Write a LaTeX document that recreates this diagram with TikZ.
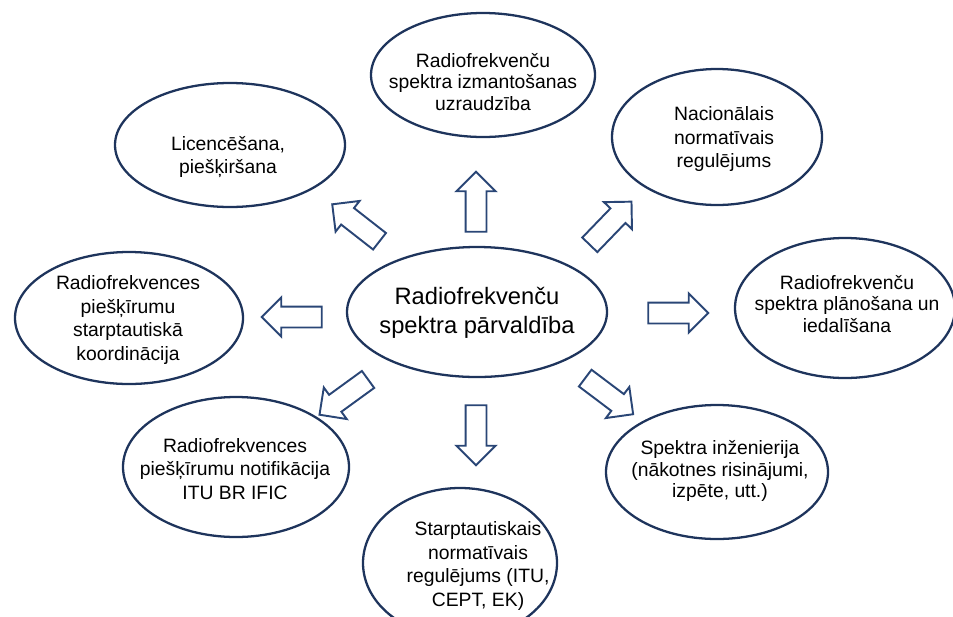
\documentclass[tikz,border=0pt]{standalone}
\usepackage{fontspec}
\setmainfont{Liberation Sans}
\usetikzlibrary{shapes.arrows}
\definecolor{ringblue}{RGB}{30,52,92}
\definecolor{arrowblue}{RGB}{42,70,118}
\begin{document}
\begin{tikzpicture} [inner sep=0pt,
        ring/.style={draw=ringblue, line width=1.3pt},
        topic/.style={align=center, font=\fontsize{11}{13.6}\selectfont},
        tighttopic/.style={align=center, font=\fontsize{11}{12}\selectfont},
        hub/.style={align=center, font=\fontsize{13.5}{16.5}\selectfont},
        blockarrow/.style={draw=arrowblue, single arrow, line width=1.1pt, minimum height=1.2cm,
            inner xsep=0pt, inner ysep=0.19cm, single arrow head extend=0.18cm}]
                \clip (0,0) rectangle (19.06,-12.32);
                \useasboundingbox (0,0) rectangle (19.06,-12.32);

                % rings
                \draw[ring] (9.54,-6.24) ellipse [x radius=2.6cm, y radius=1.3cm];
                \draw[ring] (9.66,-1.5) ellipse [x radius=2.24cm, y radius=1.24cm];
                \draw[ring] (14.34,-2.74) ellipse [x radius=2.1cm, y radius=1.36cm];
                \draw[ring] (16.9,-6.16) ellipse [x radius=2.2cm, y radius=1.4cm];
                \draw[ring] (14.34,-9.44) ellipse [x radius=2.22cm, y radius=1.34cm];
                \draw[ring] (9.2,-11.26) ellipse [x radius=1.94cm, y radius=1.5cm];
                \draw[ring] (4.72,-9.34) ellipse [x radius=2.26cm, y radius=1.4cm];
                \draw[ring] (2.58,-6.36) ellipse [x radius=2.28cm, y radius=1.32cm];
                \draw[ring] (4.6,-2.9) ellipse [x radius=2.3cm, y radius=1.24cm];

                \node (Hub) [hub] at(9.54,-6.26) {Radiofrekvenču\\spektra pārvaldība};
                \node (Monitor) [tighttopic] at(9.66,-1.64) {Radiofrekvenču\\spektra izmantošanas\\uzraudzība};
                \node (National) [topic] at(14.48,-2.78) {Nacionālais\\normatīvais\\regulējums};
                \node (Planning) [tighttopic] at(16.94,-6.08) {Radiofrekvenču\\spektra plānošana un\\iedalīšana};
                \node (Engineering) [tighttopic] at(14.4,-9.42) {Spektra inženierija\\(nākotnes risinājumi,\\izpēte, utt.)};
                \node (International) [topic] at(9.56,-11.32) {Starptautiskais\\normatīvais\\regulējums (ITU,\\CEPT, EK)};
                \node (Notification) [topic] at(4.7,-9.38) {Radiofrekvences\\piešķīrumu notifikācija\\ITU BR IFIC};
                \node (Coordination) [topic] at(2.56,-6.4) {Radiofrekvences\\piešķīrumu\\starptautiskā\\koordinācija};
                \node (Licensing) [topic] at(4.56,-3.14) {Licencēšana,\\piešķiršana};

                % block arrows from the hub
                \node (ArrMonitor) [blockarrow, rotate=90] at(9.52,-4.14) {};
                \node (ArrNational) [blockarrow, rotate=46] at(12.14,-4.54) {};
                \node (ArrPlanning) [blockarrow, rotate=0] at(13.46,-6.26) {};
                \node (ArrEngineering) [blockarrow, rotate=-37] at(12.1,-7.86) {};
                \node (ArrInternational) [blockarrow, rotate=-90] at(9.52,-8.6) {};
                \node (ArrNotification) [blockarrow, rotate=216] at(6.96,-7.88) {};
                \node (ArrCoordination) [blockarrow, rotate=180] at(5.94,-6.34) {};
                \node (ArrLicensing) [blockarrow, rotate=142] at(7.2,-4.52) {};
            \end{tikzpicture}
\end{document}
